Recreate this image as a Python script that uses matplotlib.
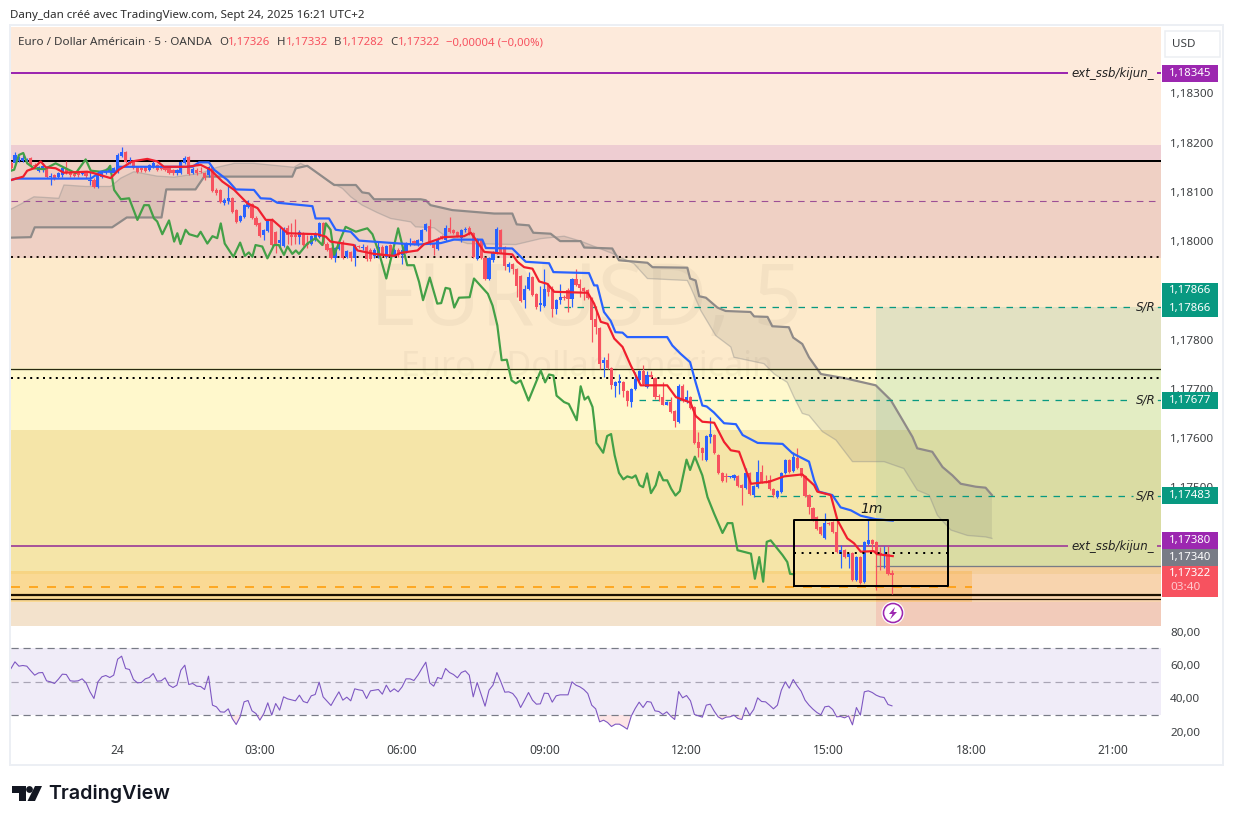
#!/usr/bin/env python3

import matplotlib
matplotlib.use('Agg')
import matplotlib.pyplot as plt
from matplotlib.patches import Circle, Polygon, Rectangle
from matplotlib.ticker import FuncFormatter
import numpy as np

W, H = 1233, 824
PX = 0.72  # one pixel in points at dpi 100
plt.rcParams['font.family'] = ['Noto Sans', 'DejaVu Sans']

# Candles, one per 5 minutes, in 1e-5 price units. Bar 0 is midnight on the 24th.
first_bar = -27
opens = [
    118158, 118158, 118162, 118162, 118162, 118168, 118155, 118143, 118145, 118148,
    118131, 118134, 118130, 118134, 118146, 118141, 118136, 118141, 118136, 118141,
    118123, 118124, 118109, 118131, 118138, 118141, 118138,
    118141, 118172, 118182, 118158, 118162, 118150, 118148, 118150, 118145, 118151,
    118155, 118148, 118148, 118150, 118145, 118138, 118139, 118158, 118170, 118139,
    118145, 118141, 118138, 118134, 118151, 118104, 118103, 118077, 118082, 118087,
    118063, 118040, 118048, 118069, 118076, 118046, 118037, 118012, 118021, 118043,
    118019, 117997, 117990, 118026, 118012, 118012, 118008, 118016, 117993, 117994,
    118002, 118009, 118036, 117995, 117985, 117965, 117984, 117999, 117967, 117977,
    117965, 117989, 117985, 117989, 117982, 117970, 117970, 117989, 117968, 117992,
    117970, 117982,
    117971, 117978, 117992, 118000, 117992, 118000, 118022, 118030,
    117994, 117983, 118010, 118003, 118027, 118022, 118019, 118007, 118023, 118027,
    118017, 117964, 118003, 117966, 117922, 117961, 117975, 118023, 117988, 117947,
    117953, 117944, 117930, 117880, 117903, 117927, 117892, 117870, 117869, 117910,
    117903, 117863, 117881, 117885, 117900, 117883, 117922, 117912, 117905, 117900,
    117885, 117842, 117824, 117752, 117759, 117743, 117705, 117712, 117714, 117695,
    117673, 117700, 117717, 117737, 117703, 117727, 117722, 117685, 117683, 117668,
    117673, 117655, 117632, 117705, 117673, 117683,
    117663, 117592, 117579, 117556,
    117601, 117606, 117565, 117529, 117521, 117520, 117518, 117522, 117504, 117499,
    117529, 117484, 117501, 117531, 117511, 117514, 117497, 117480, 117491, 117528,
    117555, 117533, 117560, 117538, 117522, 117484, 117457, 117440, 117419, 117396,
    117427, 117430, 117409, 117365, 117372, 117358, 117366, 117312, 117358, 117308,
    117385, 117392, 117389, 117366, 117362, 117364, 117326,
]
closes = [
    118148, 118175, 118168, 118168, 118166, 118153, 118153, 118151, 118153, 118131,
    118132, 118128, 118139, 118148, 118138, 118134, 118133, 118134, 118139, 118132,
    118125, 118109, 118134, 118141, 118145, 118146, 118148,
    118175, 118182, 118160, 118162, 118148, 118141, 118145, 118143, 118155, 118158,
    118145, 118147, 118145, 118138, 118138, 118145, 118160, 118168, 118136, 118146,
    118138, 118140, 118128, 118151, 118101, 118097, 118080, 118084, 118087, 118060,
    118038, 118051, 118073, 118076, 118046, 118033, 118010, 118023, 118042, 117992,
    117992, 118002, 118023, 118012, 118009, 118008, 118019, 117992, 117992, 118010,
    118014, 118036, 117995, 117982, 117965, 117985, 117999, 117965, 117979, 117965,
    117992, 117988, 117989, 117963, 117963, 117981, 117989, 117970, 117990, 117970,
    117982, 117972,
    117981, 117996, 117994, 117994, 118002, 118022, 118034, 117994,
    117987, 118005, 118007, 118027, 118019, 118017, 118010, 118022, 118024, 118015,
    117968, 118005, 117966, 117924, 117966, 117978, 118025, 117978, 117949, 117954,
    117944, 117908, 117878, 117903, 117927, 117890, 117867, 117874, 117903, 117897,
    117863, 117881, 117886, 117884, 117883, 117922, 117910, 117905, 117899, 117885,
    117840, 117825, 117751, 117758, 117743, 117707, 117714, 117715, 117695, 117675,
    117700, 117720, 117737, 117710, 117727, 117724, 117684, 117683, 117668, 117674,
    117653, 117634, 117705, 117676, 117683, 117661,
    117589, 117579, 117570, 117604,
    117609, 117569, 117529, 117513, 117520, 117521, 117524, 117502, 117499, 117529,
    117486, 117502, 117531, 117511, 117510, 117497, 117484, 117493, 117529, 117555,
    117531, 117562, 117538, 117522, 117482, 117459, 117434, 117416, 117404, 117427,
    117425, 117409, 117369, 117372, 117358, 117365, 117312, 117358, 117305, 117389,
    117392, 117384, 117365, 117362, 117364, 117324, 117322,
]
highs = [
    118162, 118182, 118172, 118175, 118168, 118170, 118158, 118153, 118158, 118151,
    118138, 118136, 118141, 118151, 118162, 118143, 118141, 118143, 118141, 118143,
    118141, 118128, 118136, 118143, 118148, 118148, 118150,
    118179, 118192, 118184, 118170, 118165, 118151, 118151, 118152, 118157, 118162,
    118157, 118150, 118151, 118151, 118146, 118146, 118162, 118172, 118173, 118151,
    118148, 118150, 118141, 118153, 118153, 118107, 118105, 118087, 118114, 118089,
    118065, 118053, 118075, 118084, 118078, 118051, 118039, 118025, 118044, 118046,
    118021, 118029, 118029, 118033, 118036, 118044, 118023, 118019, 118012, 118012,
    118019, 118039, 118038, 117999, 117989, 117989, 118002, 118002, 117982, 117980,
    117995, 117992, 117995, 117992, 117985, 117985, 117999, 117992, 117992, 117995,
    117985, 117985,
    117988, 117998, 118007, 118003, 118005, 118024, 118037, 118044,
    117997, 118008, 118012, 118032, 118049, 118024, 118020, 118024, 118029, 118030,
    118019, 118007, 118005, 117968, 117968, 117980, 118029, 118025, 117990, 117958,
    117956, 117946, 117932, 117910, 117937, 117929, 117894, 117908, 117944, 117915,
    117908, 117883, 117913, 117890, 117905, 117926, 117944, 117922, 117907, 117903,
    117887, 117869, 117826, 117764, 117772, 117745, 117716, 117730, 117716, 117697,
    117702, 117734, 117739, 117749, 117737, 117737, 117724, 117690, 117713, 117676,
    117683, 117657, 117710, 117710, 117697, 117685,
    117665, 117613, 117581, 117606,
    117643, 117608, 117567, 117531, 117528, 117523, 117527, 117524, 117506, 117538,
    117531, 117504, 117555, 117545, 117524, 117524, 117499, 117495, 117531, 117557,
    117557, 117572, 117579, 117540, 117524, 117486, 117459, 117442, 117421, 117448,
    117429, 117432, 117432, 117382, 117374, 117367, 117368, 117360, 117360, 117391,
    117434, 117394, 117391, 117379, 117380, 117380, 117332,
]
lows = [
    118146, 118155, 118160, 118160, 118160, 118150, 118150, 118141, 118141, 118128,
    118114, 118124, 118128, 118131, 118136, 118131, 118130, 118131, 118134, 118128,
    118114, 118107, 118107, 118128, 118136, 118138, 118136,
    118138, 118170, 118158, 118156, 118146, 118139, 118141, 118141, 118143, 118149,
    118143, 118145, 118143, 118136, 118134, 118134, 118136, 118156, 118134, 118136,
    118134, 118138, 118124, 118131, 118099, 118094, 118078, 118073, 118075, 118058,
    118036, 118038, 118046, 118067, 118044, 118031, 118008, 118002, 118019, 117990,
    117975, 117985, 117988, 117995, 117992, 117995, 117995, 117990, 117985, 117992,
    118000, 118006, 117992, 117979, 117963, 117958, 117982, 117963, 117965, 117960,
    117949, 117985, 117982, 117960, 117960, 117965, 117965, 117967, 117965, 117968,
    117967, 117968,
    117954, 117975, 117990, 117992, 117990, 117998, 118020, 117992,
    117971, 117981, 118005, 118001, 118017, 118015, 118008, 117999, 118019, 118013,
    117965, 117962, 117964, 117921, 117920, 117958, 117973, 117976, 117941, 117937,
    117934, 117886, 117876, 117865, 117901, 117888, 117863, 117859, 117867, 117888,
    117846, 117852, 117873, 117880, 117856, 117866, 117908, 117886, 117880, 117883,
    117795, 117812, 117741, 117724, 117741, 117700, 117683, 117690, 117683, 117664,
    117663, 117698, 117715, 117708, 117701, 117722, 117679, 117676, 117666, 117666,
    117651, 117622, 117630, 117673, 117671, 117659,
    117587, 117562, 117556, 117554,
    117590, 117567, 117527, 117511, 117511, 117518, 117514, 117500, 117463, 117497,
    117484, 117480, 117499, 117509, 117508, 117494, 117480, 117478, 117489, 117526,
    117529, 117531, 117536, 117520, 117480, 117446, 117432, 117414, 117402, 117394,
    117423, 117407, 117367, 117335, 117356, 117335, 117310, 117310, 117303, 117306,
    117383, 117370, 117291, 117331, 117335, 117322, 117282,
]

# Indicator lines as bar, price pairs
blue_bars = [-27, -25.8, -6.8, -4.3, -0.5, 0.3, 18.9, 20.6, 23.1, 24.4, 27.8, 29.9, 34.5, 36.2, 38.7, 40.4, 49.3,
             50.1, 53.5, 55.2, 59, 61.1, 71.6, 75.9, 81.8, 85.1, 92.3, 93.2, 99.9, 103.3, 109.2, 110.3, 119.3,
             120.6, 121.4, 123.1, 124.8, 126, 127.8, 129, 139.1, 140.4, 142.5, 144.9, 146.3, 148, 149.1, 150.9,
             153.5, 156.5, 158.2, 162, 168.3, 170.8, 175, 176.3, 177.5, 180.9, 183, 185.6, 188.1, 191.9, 196.2]
blue_prices = [118124, 118127, 118127, 118141, 118141, 118151, 118151, 118160, 118160, 118145, 118124, 118105,
               118104, 118087, 118086, 118078, 118071, 118046, 118046, 118023, 118019, 118001, 117995, 117993,
               117996, 118003, 118003, 117986, 117985, 117958, 117955, 117937, 117935, 117910, 117910, 117856,
               117838, 117815, 117814, 117805, 117805, 117788, 117771, 117754, 117713, 117666, 117664, 117652,
               117630, 117628, 117606, 117590, 117588, 117569, 117552, 117514, 117491, 117484, 117459, 117453,
               117442, 117435, 117432]

red_bars = [-27, -23.9, -22.9, -21.2, -19.5, -18.2, -15.7, -13.6, -7.7, -6, -1.8, 0.3, 3.7, 7.5, 10, 11.7, 17.6, 21,
            23.5, 26.5, 29.5, 32.8, 35.4, 37.5, 39.2, 43, 50.5, 52.7, 53.9, 59.8, 60.7, 64.9, 70, 71.6, 75.9, 77.6,
            82.6, 87.7, 89.4, 90.2, 92.8, 99.9, 101.2, 102.9, 105, 106.7, 108.8, 110.5, 119, 120.6, 122.3, 124,
            125.7, 127.8, 129.9, 132.4, 139.1, 141.3, 145, 146.3, 148, 151, 153.5, 155.2, 157.3, 160.3, 164.9,
            168.7, 173.3, 176.3, 177.1, 180.5, 182.2, 184.7, 186.4, 188.1, 191.4, 192.2, 196.2]
red_prices = [118124, 118131, 118143, 118148, 118162, 118150, 118148, 118139, 118141, 118138, 118128, 118145, 118162,
              118167, 118162, 118151, 118151, 118155, 118145, 118121, 118104, 118077, 118067, 118043, 118043, 118016,
              118014, 118009, 117999, 117992, 117981, 117974, 117970, 117976, 117981, 117994, 118008, 118010, 118017,
              118008, 117978, 117973, 117958, 117947, 117944, 117918, 117913, 117897, 117895, 117873, 117836, 117832,
              117802, 117785, 117747, 117707, 117707, 117683, 117672, 117645, 117633, 117631, 117592, 117575, 117572,
              117507, 117511, 117522, 117526, 117504, 117491, 117484, 117433, 117396, 117386, 117369, 117370, 117364,
              117360]

green_bars = [-27, -26.2, -25, -23.9, -22.9, -21.2, -18.6, -15.7, -13.2, -10.6, -8.1, -6.8, -4.3, -2.6, -1.9, -0.9,
              0.8, 2.9, 5, 6.7, 7.9, 9.2, 10, 11.3, 13, 14.3, 15.1, 15.9, 17.2, 18.1, 20.2, 21, 22.7, 24, 25.2, 26.1,
              27.1, 29.3, 31, 32.2, 33.2, 34.1, 34.9, 36.6, 37.9, 39.6, 40.8, 42.1, 43, 44.2, 45.1, 45.9, 48, 50.1,
              51.8, 52.7, 53.9, 54.8, 56.5, 57.7, 60.3, 61.9, 63.2, 64.5, 66.2, 68, 71, 73.3, 75, 76.3, 77.3, 79,
              80.9, 81.9, 83, 84.1, 85.2, 86.4, 89.1, 90.2, 93.7, 94.9, 96.1, 97.2, 98.5, 99.7, 100.8, 102, 104,
              107.1, 108.2, 109.2, 110.3, 111.1, 113, 114.2, 116.2, 117.2, 118.2, 119.1, 120.2, 120.6, 121.2, 122.9,
              123.9, 124.9, 125.8, 126.9, 128, 129, 130.2, 131.1, 132.1, 133, 134, 135, 136.2, 137.1, 138.1, 139.1,
              140.1, 141.2, 142.3, 144, 144.9, 146.1, 148, 149.3, 151, 153.1, 154.4, 155.6, 156.9, 160.3, 161.3,
              162.4, 163.4, 164.3, 165.3, 168.3, 169.5, 170.2, 171.2]
green_prices = [118143, 118145, 118175, 118179, 118158, 118148, 118146, 118158, 118148, 118138, 118166, 118143, 118141,
                118145, 118153, 118104, 118085, 118087, 118043, 118073, 118073, 118046, 118040, 118014, 118042, 117999,
                118016, 117994, 118023, 118014, 118009, 118019, 117995, 118010, 118006, 118036, 117995, 117968, 117997,
                117970, 117977, 117968, 117992, 117989, 117965, 117992, 117992, 117972, 117989, 117974, 117981, 117974,
                117995, 118006, 117992, 118036, 118023, 117972, 118006, 118029, 118019, 118023, 118026, 118014, 117975,
                117924, 118026, 117951, 117951, 117917, 117880, 117926, 117873, 117874, 117905, 117903, 117865, 117885,
                117886, 117924, 117893, 117869, 117829, 117758, 117759, 117717, 117711, 117717, 117676, 117737, 117713,
                117729, 117727, 117686, 117673, 117669, 117636, 117705, 117678, 117684, 117663, 117636, 117590, 117570,
                117604, 117608, 117565, 117529, 117516, 117522, 117519, 117524, 117504, 117500, 117528, 117488, 117504,
                117531, 117514, 117514, 117497, 117483, 117492, 117556, 117535, 117562, 117524, 117480, 117446, 117407,
                117427, 117427, 117372, 117365, 117314, 117358, 117308, 117389, 117392, 117362, 117348, 117324, 117323]

cloud_dark_bars = [-27, -22, -21, -1.4, 2.3, 11.1, 12.3, 19.7, 21.9, 44.2, 45.1, 48, 50.1, 54.8, 60.3, 61.9, 63.6,
                   64.9, 76.7, 78, 79.2, 84.7, 95.3, 99.9, 101, 104.1, 105.2, 109.6, 112, 117.2, 118.1, 125.2, 126.9,
                   134.1, 135.4, 144.2, 144.9, 146.3, 147.2, 148.9, 151.8, 153.9, 160.2, 161.1, 164.5, 165.7, 169.9,
                   171, 173.3, 175, 178, 184.3, 191.9, 195.7, 198.2, 201.2, 202.4, 206.2, 208.8, 211.3, 213.4, 217.2,
                   219.7, 221.3]
cloud_dark_prices = [118007, 118008, 118028, 118028, 118048, 118048, 118105, 118105, 118131, 118131, 118148, 118153,
                     118141, 118114, 118114, 118099, 118097, 118085, 118085, 118083, 118073, 118063, 118056, 118056,
                     118034, 118032, 118017, 118015, 118000, 118000, 117987, 117985, 117961, 117956, 117947, 117946,
                     117924, 117920, 117888, 117885, 117865, 117858, 117856, 117847, 117846, 117827, 117825, 117804,
                     117791, 117764, 117730, 117721, 117707, 117677, 117643, 117602, 117579, 117572, 117541, 117524,
                     117507, 117501, 117499, 117484]
cloud_light_bars = [-27, -24.6, -21.2, -14.9, -13.6, -8.1, -1.8, 0.8, 4.1, 10, 14.3, 21, 25.2, 29.5, 34.5, 44.6, 46.3,
                    48.9, 53.5, 56.9, 59, 61.9, 65.7, 69.1, 74.2, 75.4, 80.1, 82.6, 88.5, 100.8, 107.1, 113, 117.2,
                    125.2, 130.7, 134.1, 144.2, 145, 147.6, 151.4, 155.2, 156, 163.6, 166.2, 169.5, 171.2, 173.3, 175,
                    178.4, 181.8, 186, 194, 199, 202.4, 205.4, 207.5, 210.9, 215.1, 219.7, 221.3]
cloud_light_prices = [118065, 118075, 118090, 118087, 118114, 118111, 118111, 118128, 118141, 118132, 118130, 118138,
                      118150, 118158, 118158, 118150, 118158, 118148, 118121, 118107, 118090, 118073, 118058, 118046,
                      118039, 118029, 118027, 118012, 117995, 117993, 118005, 118010, 118000, 117975, 117954, 117924,
                      117920, 117907, 117859, 117808, 117785, 117764, 117751, 117730, 117713, 117683, 117650, 117646,
                      117613, 117596, 117552, 117552, 117538, 117494, 117484, 117443, 117413, 117402, 117399, 117396]

rsi = [57.9, 61.9, 59.3, 59.7, 59.3, 56.5, 53.9, 55.3, 55.5, 50.5, 49.9, 48.9, 51.5, 54.5, 54.3, 50.5, 50.3, 50.5, 51.7,
       49.3, 43.9, 39.9, 49.9, 52.9, 53.7, 52.5, 53.9, 63.5, 65.3, 57.9, 57.3, 51.3, 49.3, 49.5, 51.7, 52.5, 54.9, 50.3,
       50.5, 52.3, 47.9, 46.5, 47.9, 56.9, 59.9, 48.3, 48.9, 47.3, 47.1, 45.3, 53.3, 35.9, 34.9, 31.9, 31.7, 33.7, 27.9,
       24.3, 28.9, 37.9, 38.7, 32.5, 30.9, 26.9, 30.9, 37.3, 29.9, 36.9, 32.9, 40.9, 39.7, 39.1, 38.5, 41.9, 38.1, 37.3,
       41.5, 42.3, 49.7, 40.9, 38.3, 35.7, 39.9, 43.9, 38.9, 40.7, 38.5, 45.7, 45.1, 44.7, 39.9, 44.5, 44.9, 45.3, 42.5,
       47.9, 43.9, 45.7, 43.9, 46.9, 51.7, 51.7, 50.7, 53.9, 57.9, 61.7, 49.3, 47.3, 52.5, 51.7, 57.9, 55.5,
       54.3, 52.3, 55.5, 56.5, 53.9, 40.9, 49.5, 42.5, 35.3, 44.9, 47.9, 55.5, 49.9, 43.7, 43.9, 42.9, 39.9, 34.5, 38.9,
       43.5, 38.9, 36.5, 36.7, 43.1, 42.9, 37.7, 41.5, 42.1, 42.1, 42.1, 49.9, 47.9, 46.9, 45.3, 42.9, 35.9, 33.7, 25.9,
       26.9, 25.5, 23.1, 24.5, 24.5, 23.1, 21.5, 29.3, 33.9, 37.7, 34.5, 38.1, 37.7, 32.5, 32.1, 30.3, 31.9, 29.3, 27.3,
       44.1, 40.3, 41.7, 38.5, 30.3, 29.5, 28.7, 35.9, 36.5, 32.3, 28.9, 27.5, 28.7, 28.9, 29.9, 27.9, 27.3, 34.5, 29.9,
       33.3, 40.3, 38.1, 37.9, 35.9, 33.7, 35.9, 44.9, 49.9, 46.1, 51.3, 47.5, 44.3, 38.9, 35.9, 33.5, 31.5, 30.1, 34.9,
       35.3, 33.3, 28.9, 29.1, 28.3, 29.5, 24.1, 34.5, 29.9, 43.9, 44.5, 43.5, 41.9, 40.9, 40.5, 36.3, 35.5]

# Background bands from the top of the pane down
zone_edges = [1.18436, 1.18195, 1.18165, 1.17965, 1.17742, 1.17616, 1.17323, 1.17266, 1.17217]
zone_colors = ['#fdeadb', '#eecdd2', '#efd0c4', '#fdeacb', '#fff8cc', '#f5e5a8', '#f9ecbe', '#f3e2cc']

time_ticks = [0, 36, 72, 108, 144, 180, 216, 252]
time_labels = ['24', '03:00', '06:00', '09:00', '12:00', '15:00', '18:00', '21:00']
price_ticks = [1.183, 1.182, 1.181, 1.180, 1.178, 1.177, 1.176, 1.175, 1.174]
rsi_ticks = [80, 60, 40, 20]

level_top = 1.18345
level_top_drawn = 1.18341
level_ext = 1.17380
levels_sr = [1.17866, 1.17677, 1.17483]
sr_start_bars = [113, 132, 161]
entry_price = 1.17340
target_price = 1.17866
stop_price = 1.17217

bar_left, bar_right = -27.0, 264.1
pane_top, pane_bottom = 1.18435, 1.17218
text_gap_bar = 240.3
resume_bar = 263.3
mid_bar = 118.7


def px_axes(x0, y0, x1, y1):
    return fig.add_axes([x0 / W, 1 - y1 / H, (x1 - x0) / W, (y1 - y0) / H])


def comma(value, pos=None):
    return f'{value:.5f}'.replace('.', ',')


fig = plt.figure(figsize=(W / 100, H / 100), dpi=100, facecolor='white')

# Overlay in pixel coordinates for the chart frame, price tags and logo
frame = px_axes(0, 0, W, H)
frame.set_xlim(0, W)
frame.set_ylim(H, 0)
frame.axis('off')
frame.add_patch(Rectangle((10, 25), 1213, 740, facecolor='white', edgecolor='#eceff4', lw=2 * PX))

ax = px_axes(11, 27, 1161, 626)
ax.set_xlim(bar_left, bar_right)
ax.set_ylim(pane_bottom, pane_top)
ax.patch.set_alpha(0)
for spine in ax.spines.values():
    spine.set_visible(False)

for i, color in enumerate(zone_colors):
    ax.axhspan(zone_edges[i + 1], zone_edges[i], color=color, lw=0, zorder=0)

ax.text(mid_bar, 1.17874, 'EURUSD, 5', fontsize=62, color='black', alpha=0.035,
        ha='center', va='center', zorder=0.5)
ax.text(mid_bar, 1.17745, 'Euro / Dollar Américain', fontsize=24.6, color='black', alpha=0.035,
        ha='center', va='center', zorder=0.5)

# Position tool and orange zone
pos_start = 192.0
ax.fill_between([pos_start, bar_right], entry_price, target_price, color='#089981', alpha=0.11, lw=0, zorder=1)
ax.fill_between([pos_start, bar_right], stop_price, entry_price, color='#f23645', alpha=0.13, lw=0, zorder=1)
ax.fill_between([bar_left, 216.2], 1.17267, 1.17330, color='#ff9800', alpha=0.22, lw=0, zorder=1.1)
ax.plot([pos_start, bar_right], [entry_price, entry_price], color='#787b86', lw=1 * PX * 1.3, zorder=2)

# Cloud
cloud_x = np.concatenate([cloud_dark_bars, cloud_light_bars[::-1]])
cloud_y = np.concatenate([cloud_dark_prices, cloud_light_prices[::-1]]) / 1e5
ax.fill(cloud_x, cloud_y, color='#6b6b66', alpha=0.14, lw=0, zorder=2)
ax.plot(cloud_light_bars, np.array(cloud_light_prices) / 1e5, color='#8a8a8a', alpha=0.4, lw=1.3 * PX, zorder=2.1)
ax.plot(cloud_dark_bars, np.array(cloud_dark_prices) / 1e5, color='#8f8a88', lw=2.2 * PX, zorder=2.1)

# Horizontal levels
ax.axhline(1.18163, color='black', lw=2 * PX, zorder=3)
ax.axhline(1.18081, color='#9c4f96', lw=1.1 * PX, ls=(0, (6, 5)), zorder=3)
ax.axhline(1.17967, color='#1a1008', lw=2 * PX, ls=(0, (1, 2.2)), zorder=3)
ax.axhline(1.17740, color='#2a2a10', lw=1.3 * PX, zorder=3)
ax.axhline(1.17722, color='black', lw=2 * PX, ls=(0, (1, 2.2)), zorder=3)
ax.axhline(1.17281, color='#1c1000', lw=2.2 * PX, zorder=3)
ax.axhline(1.17273, color='#1c1000', lw=1.2 * PX, zorder=3)
ax.plot([bar_left, 216.2], [1.17297, 1.17297], color='#ff9800', lw=1.5 * PX, ls=(0, (6, 6)), zorder=3)

ax.plot([bar_left, text_gap_bar], [level_top_drawn, level_top_drawn], color='#9c27b0', lw=2 * PX, zorder=3)
ax.plot([bar_left, text_gap_bar], [level_ext, level_ext], color='#a8559a', lw=2 * PX, zorder=3)
ax.plot([resume_bar, bar_right], [level_top_drawn, level_top_drawn], color='#9c27b0', lw=2 * PX, zorder=3)
ax.plot([resume_bar, bar_right], [level_ext, level_ext], color='#a8559a', lw=2 * PX, zorder=3)
for level, start in zip(levels_sr, sr_start_bars):
    ax.plot([start, 257], [level, level], color='#089981', lw=1.3 * PX, ls=(0, (5, 5)), zorder=3)
    ax.plot([resume_bar, bar_right], [level, level], color='#089981', lw=1.3 * PX, zorder=3)
    ax.text(260.2, level, 'S/R', fontsize=8.6, style='italic', family='DejaVu Sans', color='#222222',
            ha='center', va='center', zorder=7)
for level in [level_top_drawn, level_ext]:
    ax.text(251.8, level, 'ext_ssb/kijun_', fontsize=8.5, style='italic', family='DejaVu Sans', color='#222222',
            ha='center', va='center', zorder=7)

# Candles
bars = first_bar + np.arange(len(opens))
o = np.array(opens) / 1e5
c = np.array(closes) / 1e5
h = np.array(highs) / 1e5
l = np.array(lows) / 1e5
candle_colors = np.where(c >= o, '#2962ff', '#f7525f')
ax.vlines(bars, l, h, colors=candle_colors, lw=1.2 * PX, zorder=4)
ax.bar(bars, np.maximum(np.abs(c - o), 2e-5), bottom=np.minimum(o, c), width=0.8, color=candle_colors, lw=0, zorder=4)

# Indicator lines
ax.plot(green_bars, np.array(green_prices) / 1e5, color='#43a047', lw=2.2 * PX, zorder=5, solid_joinstyle='round')
ax.plot(blue_bars, np.array(blue_prices) / 1e5, color='#2962ff', lw=2.2 * PX, zorder=5.2, solid_joinstyle='round')
ax.plot(red_bars, np.array(red_prices) / 1e5, color='#f01f2e', lw=2.2 * PX, zorder=5.3, solid_joinstyle='round')

# Drawn box with its dotted midline
box_left, box_right, box_low, box_high = 171.1, 210.1, 1.17299, 1.17434
ax.plot([box_left, box_right, box_right, box_left, box_left], [box_low, box_low, box_high, box_high, box_low],
        color='black', lw=2 * PX, zorder=6)
ax.plot([box_left, box_right], [1.17366, 1.17366], color='black', lw=2 * PX, ls=(0, (1, 2.8)), zorder=6)
ax.text(190.8, 1.17455, '1m', fontsize=10, style='italic', family='DejaVu Sans', color='#1a1a1a',
        ha='center', va='center', zorder=7)

# Price scale
ax.yaxis.tick_right()
ax.set_yticks(price_ticks)
ax.yaxis.set_major_formatter(FuncFormatter(comma))
ax.tick_params(axis='y', length=0, pad=6.5, labelsize=8.4, labelcolor='#3d4043')
ax.set_xticks([])

# RSI pane
rsi_ax = px_axes(11, 627, 1161, 741)
rsi_ax.set_xlim(bar_left, bar_right)
rsi_ax.set_ylim(14.4, 82.8)
rsi_ax.patch.set_alpha(0)
for spine in rsi_ax.spines.values():
    spine.set_visible(False)
rsi_bars = first_bar + np.arange(len(rsi))
rsi_values = np.array(rsi)
rsi_ax.axhspan(30, 70, color='#7e57c2', alpha=0.11, lw=0, zorder=1)
for band, shade in zip([70, 50, 30], ['#787b86', '#a9a5b5', '#787b86']):
    rsi_ax.axhline(band, color=shade, lw=1.2 * PX, ls=(0, (6, 4)), zorder=2)
rsi_ax.fill_between(rsi_bars, rsi_values, 30, where=rsi_values < 30, interpolate=True, color='#f23645', alpha=0.13,
                    lw=0, zorder=1.5)
rsi_ax.plot(rsi_bars, rsi_values, color='#7e57c2', lw=1.1 * PX, zorder=3)
rsi_ax.yaxis.tick_right()
rsi_ax.set_yticks(rsi_ticks)
rsi_ax.set_yticklabels([f'{v},00' for v in rsi_ticks])
rsi_ax.tick_params(axis='y', length=0, pad=6.5, labelsize=8.4, labelcolor='#3d4043')
rsi_ax.set_xticks(time_ticks)
rsi_ax.set_xticklabels(time_labels)
rsi_ax.tick_params(axis='x', length=0, pad=2, labelsize=8.6, labelcolor='#3d4043')

# Overlay drawn last: price tags, header text, logo
top = fig.add_axes([0, 0, 1, 1], zorder=20)
top.set_xlim(0, W)
top.set_ylim(H, 0)
top.axis('off')


def tag(y0, y1, color, label, extra=None):
    top.add_patch(Rectangle((1162, y0), 56, y1 - y0, facecolor=color, lw=0))
    ty = (y0 + y1) / 2 if extra is None else y0 + 8
    top.text(1190.5, ty, label, color='white', fontsize=8.2, ha='center', va='center', weight='bold')
    if extra:
        top.text(1170, y0 + 22, extra, color='#ffc9ce', fontsize=8.4, ha='left', va='center')


tag(65, 82, '#9c27b0', comma(level_top))
tag(282.7, 299.3, '#089981', comma(levels_sr[0]))
tag(299.3, 316.7, '#089981', comma(levels_sr[0]))
tag(392, 409, '#089981', comma(levels_sr[1]))
tag(487, 503.7, '#089981', comma(levels_sr[2]))
tag(532, 548.7, '#9c27b0', comma(level_ext))
tag(548.7, 565.7, '#787b86', comma(entry_price))
tag(565.7, 596.7, '#f7525f', comma(closes[-1] / 1e5), '03:40')

top.add_patch(Rectangle((1165, 31), 54.5, 26, facecolor='white', edgecolor='#eceff2', lw=1.5 * PX))
top.text(1184, 44, 'USD', fontsize=8.4, color='#3d4043', ha='center', va='center')

top.text(10, 15.5, 'Dany_dan créé avec TradingView.com, Sept 24, 2025 16:21 UTC+2', fontsize=8.3, color='#2c2c2c',
         ha='left', va='center')
header_y = 42.5
top.text(18, header_y, 'Euro / Dollar Américain · 5 · OANDA', fontsize=8.4, color='#3a3a3a', ha='left', va='center')
for x, s, col in [(219, 'O', '#3a3a3a'), (228, comma(opens[-1] / 1e5), '#f7525f'),
                  (277, 'H', '#3a3a3a'), (286, comma(highs[-1] / 1e5), '#f7525f'),
                  (334, 'B', '#3a3a3a'), (342, comma(lows[-1] / 1e5), '#f7525f'),
                  (390, 'C', '#3a3a3a'), (398, comma(closes[-1] / 1e5), '#f7525f'),
                  (446, '−0,00004 (−0,00%)', '#f7525f')]:
    top.text(x, header_y, s, fontsize=8.2, color=col, ha='left', va='center')

# Event marker under the last candle
top.add_patch(Circle((893, 613), 11.5, facecolor='white', edgecolor='none'))
top.add_patch(Circle((893, 613), 9.5, facecolor='white', edgecolor='#9c27b0', lw=1.6 * PX))
top.add_patch(Polygon([(895, 607), (889, 614), (892.5, 614), (890, 619.5), (897, 612), (893.5, 612)],
                      facecolor='#9c27b0', lw=0))

# TradingView logo
top.add_patch(Polygon([(12, 786), (25.5, 786), (25.5, 801), (19, 801), (19, 793), (12, 793)], facecolor='#131722', lw=0))
top.add_patch(Circle((29.5, 789.5), 3.4, facecolor='#131722', lw=0))
top.add_patch(Polygon([(35, 786), (42, 786), (35, 801), (27.5, 801)], facecolor='#131722', lw=0))
top.text(48.5, 794, 'TradingView', fontsize=14.2, weight='semibold', family='Inter', color='#131722',
         ha='left', va='center')

plt.savefig('out.png', dpi=100)
